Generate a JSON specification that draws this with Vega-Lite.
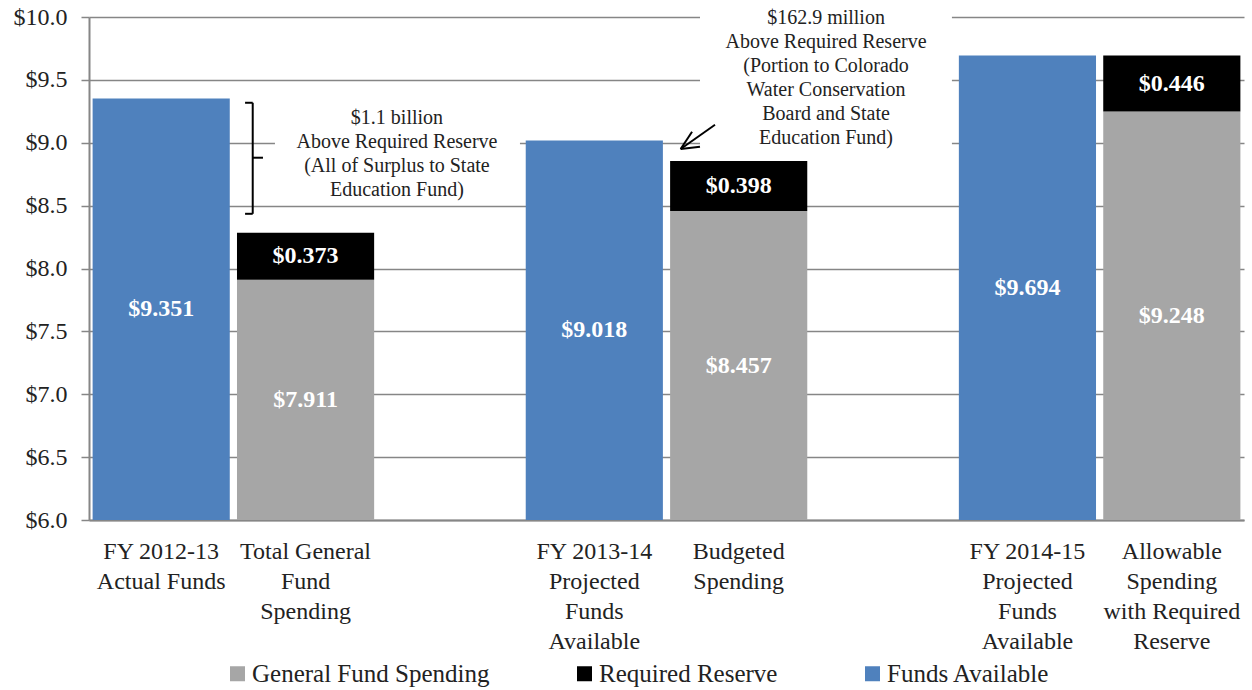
{
  "$schema": "https://vega.github.io/schema/vega-lite/v6.json",
  "width": 1155,
  "height": 503,
  "autosize": {"type": "none"},
  "padding": {"left": 89, "top": 17, "right": 8, "bottom": 170},
  "background": "white",
  "config": {
    "font": "Liberation Serif",
    "view": {"stroke": null}
  },
  "resolve": {"scale": {"x": "independent"}},
  "layer": [
    {
      "data": {"values": [
        {"cat": "FY 2012-13|Actual Funds", "series": "Funds Available", "value": 9.351},
        {"cat": "Total General|Fund|Spending", "series": "General Fund Spending", "value": 7.911},
        {"cat": "Total General|Fund|Spending", "series": "Required Reserve", "value": 0.373},
        {"cat": "FY 2013-14|Projected|Funds|Available", "series": "Funds Available", "value": 9.018},
        {"cat": "Budgeted|Spending", "series": "General Fund Spending", "value": 8.457},
        {"cat": "Budgeted|Spending", "series": "Required Reserve", "value": 0.398},
        {"cat": "FY 2014-15|Projected|Funds|Available", "series": "Funds Available", "value": 9.694},
        {"cat": "Allowable|Spending|with Required|Reserve", "series": "General Fund Spending", "value": 9.248},
        {"cat": "Allowable|Spending|with Required|Reserve", "series": "Required Reserve", "value": 0.446}
      ]},
      "transform": [
        {"stack": "value", "groupby": ["cat"], "sort": [{"field": "series", "order": "ascending"}], "as": ["v0", "v1"]},
        {"calculate": "(max(datum.v0, 6) + datum.v1) / 2", "as": "mid"}
      ],
      "encoding": {
        "x": {
          "field": "cat", "type": "nominal", "sort": null,
          "scale": {
            "domain": ["FY 2012-13|Actual Funds", "Total General|Fund|Spending", "gap1", "FY 2013-14|Projected|Funds|Available", "Budgeted|Spending", "gap2", "FY 2014-15|Projected|Funds|Available", "Allowable|Spending|with Required|Reserve"],
            "paddingInner": 0.05, "paddingOuter": 0.025
          },
          "axis": {
            "title": null,
            "labelExpr": "indexof(datum.value, 'gap') == 0 ? '' : split(datum.value, '|')",
            "labelAngle": 0, "labelFontSize": 24, "labelLineHeight": 30, "labelColor": "#222222",
            "labelBaseline": "top", "labelPadding": 19, "labelLimit": 0,
            "ticks": false, "domainColor": "#868686", "domainWidth": 2
          }
        }
      },
      "layer": [
        {
          "mark": {"type": "bar", "clip": true},
          "encoding": {
            "y": {
              "field": "v1", "type": "quantitative",
              "scale": {"domain": [6, 10], "nice": false, "zero": false},
              "axis": {
                "title": null, "values": [6, 6.5, 7, 7.5, 8, 8.5, 9, 9.5, 10], "format": "$.1f",
                "labelFontSize": 24, "labelColor": "#222222", "labelPadding": 14,
                "tickColor": "#868686", "tickSize": 8, "tickWidth": 1.5,
                "domainColor": "#868686", "domainWidth": 2,
                "grid": true, "gridColor": "#868686", "gridWidth": 1.5
              }
            },
            "y2": {"field": "v0"},
            "color": {
              "field": "series", "type": "nominal",
              "scale": {"domain": ["General Fund Spending", "Required Reserve", "Funds Available"], "range": ["#A6A6A6", "#000000", "#4F81BD"]},
              "legend": {
                "title": null, "orient": "none", "legendX": 136, "legendY": 644, "direction": "horizontal",
                "symbolType": "square", "symbolSize": 225, "symbolStrokeWidth": 0, "symbolOpacity": 1,
                "labelFontSize": 25, "labelColor": "#222222", "columnPadding": 82, "labelOffset": 2, "labelLimit": 0
              }
            }
          }
        },
        {
          "mark": {"type": "text", "color": "white", "fontWeight": "bold", "fontSize": 24, "baseline": "middle", "align": "center"},
          "encoding": {
            "y": {"field": "mid", "type": "quantitative", "title": null, "scale": {"domain": [6, 10], "nice": false, "zero": false}},
            "text": {"field": "value", "type": "quantitative", "format": "$.3f"}
          }
        }
      ]
    },
    {
      "data": {"values": [
        {"x": 1.288, "x2": 2.985, "y": 9.342, "y2": 8.547},
        {"x": 4.232, "x2": 5.977, "y": 10.15, "y2": 8.944}
      ]},
      "mark": {"type": "rect", "color": "white"},
      "encoding": {
        "x": {"field": "x", "type": "quantitative", "scale": {"domain": [0, 8], "nice": false, "zero": false}, "axis": null},
        "x2": {"field": "x2"},
        "y": {"field": "y", "type": "quantitative", "title": null, "scale": {"domain": [6, 10], "nice": false, "zero": false}},
        "y2": {"field": "y2"}
      }
    },
    {
      "data": {"values": [
        {"x": 1.134, "x2": 1.134, "y": 9.318, "y2": 8.435},
        {"x": 1.081, "x2": 1.134, "y": 9.318, "y2": 9.318},
        {"x": 1.081, "x2": 1.134, "y": 8.435, "y2": 8.435},
        {"x": 1.134, "x2": 1.205, "y": 8.881, "y2": 8.881},
        {"x": 4.336, "x2": 4.098, "y": 9.143, "y2": 8.95},
        {"x": 4.098, "x2": 4.232, "y": 8.95, "y2": 8.968},
        {"x": 4.098, "x2": 4.177, "y": 8.95, "y2": 9.087}
      ]},
      "mark": {"type": "rule", "color": "#000000", "strokeWidth": 2},
      "encoding": {
        "x": {"field": "x", "type": "quantitative", "scale": {"domain": [0, 8], "nice": false, "zero": false}, "axis": null},
        "x2": {"field": "x2"},
        "y": {"field": "y", "type": "quantitative", "title": null, "scale": {"domain": [6, 10], "nice": false, "zero": false}},
        "y2": {"field": "y2"}
      }
    },
    {
      "data": {"values": [
        {"x": 2.133, "y": 9.199, "lines": ["$1.1 billion", "Above Required Reserve", "(All of Surplus to State", "Education Fund)"]},
        {"x": 5.105, "y": 9.992, "lines": ["$162.9 million", "Above Required Reserve", "(Portion to Colorado", "Water Conservation", "Board and State", "Education Fund)"]}
      ]},
      "mark": {"type": "text", "fontSize": 20, "lineHeight": 24, "align": "center", "baseline": "middle", "color": "#222222"},
      "encoding": {
        "x": {"field": "x", "type": "quantitative", "scale": {"domain": [0, 8], "nice": false, "zero": false}, "axis": null},
        "y": {"field": "y", "type": "quantitative", "title": null, "scale": {"domain": [6, 10], "nice": false, "zero": false}},
        "text": {"field": "lines"}
      }
    }
  ]
}
